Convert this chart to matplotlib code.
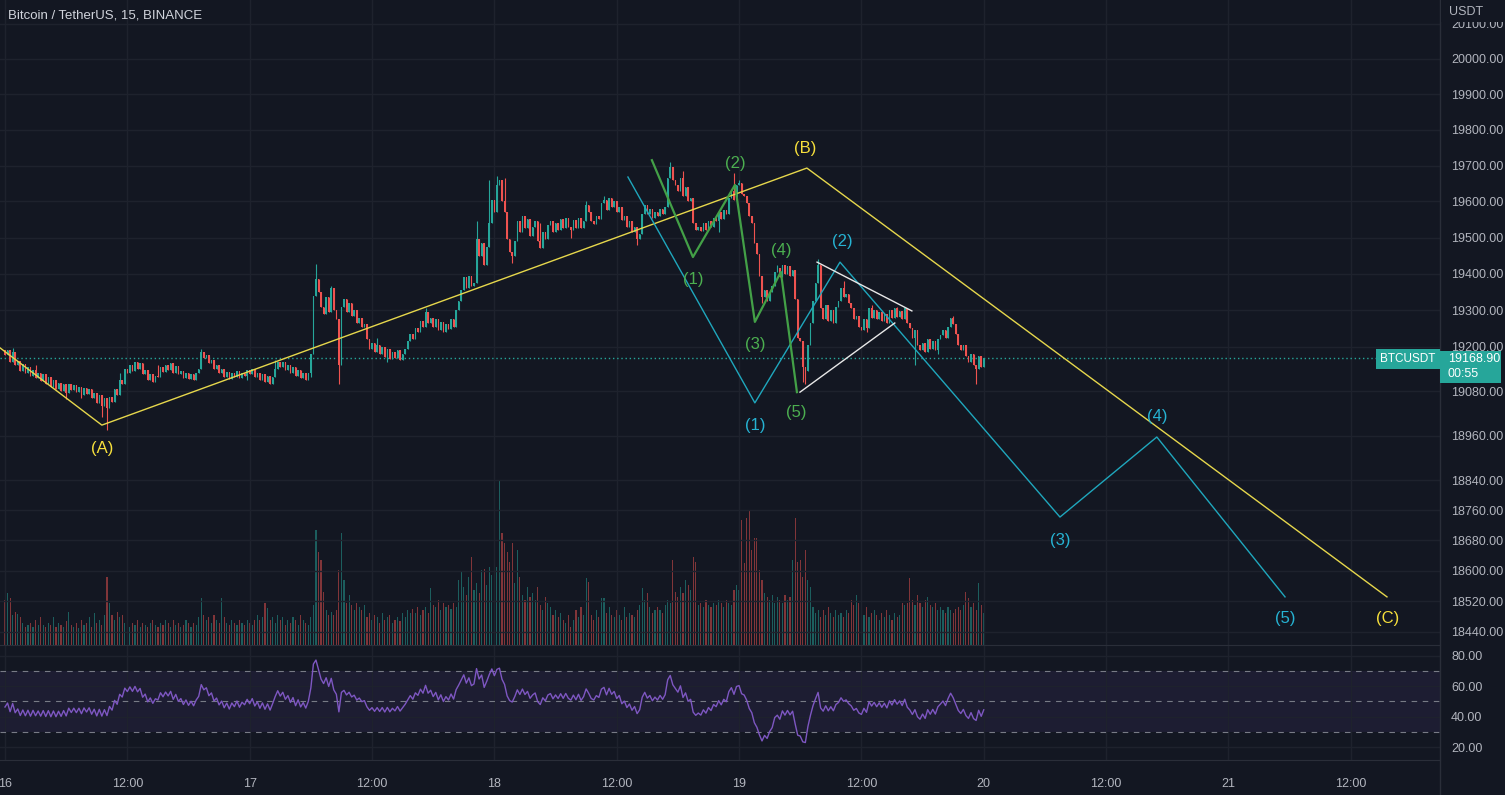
import numpy as np
import matplotlib
matplotlib.use("Agg")
import matplotlib.pyplot as plt
from matplotlib.patches import Rectangle
from matplotlib.ticker import FixedLocator, NullLocator, FuncFormatter

plt.rcParams["font.family"] = ["Liberation Sans", "DejaVu Sans"]

BG = "#131722"
GRID = "#1e222d"
TXT = "#b2b5be"
UP = "#26a69a"
DOWN = "#ef5350"

# 15-minute closes from 16 00:00 to 20 00:00 (one row = 4 hours)
closes = [
    19178, 19190, 19160, 19185, 19150, 19162, 19135, 19152, 19128, 19145, 19120, 19138, 19115, 19130, 19108, 19125,
    19100, 19118, 19092, 19110, 19085, 19102, 19080, 19098, 19075, 19100, 19082, 19096, 19078, 19092, 19070, 19088,
    19072, 19085, 19060, 19075, 19048, 19068, 19040, 19060, 19035, 19065, 19050, 19085, 19070, 19110, 19100, 19140,
    19128, 19150, 19135, 19158, 19140, 19155, 19125, 19138, 19110, 19125, 19105, 19122, 19118, 19145, 19132, 19150,
    19138, 19155, 19130, 19148, 19125, 19135, 19115, 19130, 19112, 19125, 19110, 19128, 19140, 19185, 19170, 19178,
    19155, 19165, 19140, 19150, 19128, 19140, 19118, 19132, 19112, 19130, 19118, 19135, 19115, 19130, 19122, 19138,
    19125, 19140, 19118, 19130, 19110, 19125, 19105, 19120, 19100, 19118, 19140, 19160, 19145, 19158, 19138, 19150,
    19130, 19145, 19120, 19138, 19115, 19128, 19110, 19130, 19180, 19340, 19385, 19350, 19310, 19290, 19335, 19295,
    19360, 19300, 19275, 19150, 19310, 19330, 19295, 19320, 19285, 19300, 19265, 19280, 19255, 19262, 19220, 19195,
    19210, 19185, 19205, 19180, 19200, 19172, 19195, 19168, 19185, 19170, 19190, 19165, 19180, 19195, 19215, 19235,
    19220, 19250, 19240, 19270, 19255, 19295, 19265, 19280, 19255, 19275, 19245, 19268, 19240, 19262, 19248, 19275,
    19255, 19300, 19325, 19355, 19390, 19360, 19395, 19365, 19375, 19495, 19450, 19485, 19425, 19475, 19540, 19605,
    19570, 19645, 19660, 19600, 19570, 19495, 19460, 19450, 19490, 19545, 19515, 19560, 19525, 19550, 19505, 19530,
    19545, 19490, 19470, 19515, 19495, 19535, 19545, 19515, 19540, 19520, 19550, 19525, 19555, 19530, 19520, 19548,
    19525, 19555, 19525, 19545, 19590, 19570, 19545, 19538, 19560, 19552, 19595, 19605, 19575, 19610, 19585, 19600,
    19570, 19585, 19548, 19560, 19530, 19545, 19515, 19530, 19495, 19510, 19565, 19590, 19565, 19578, 19555, 19572,
    19560, 19580, 19565, 19585, 19665, 19695, 19660, 19645, 19630, 19665, 19615, 19640, 19600, 19610, 19540, 19520,
    19530, 19518, 19540, 19522, 19545, 19530, 19555, 19545, 19570, 19552, 19575, 19565, 19610, 19630, 19605, 19645,
    19650, 19620, 19615, 19595, 19560, 19540, 19485, 19455, 19395, 19335, 19355, 19325, 19350, 19365, 19405, 19415,
    19390, 19425, 19400, 19420, 19395, 19410, 19330, 19225, 19215, 19145, 19135, 19205, 19265, 19325, 19375, 19425,
    19305, 19275, 19315, 19270, 19300, 19265, 19310, 19325, 19360, 19335, 19345, 19320, 19305, 19275, 19285, 19255,
    19245, 19275, 19250, 19305, 19280, 19300, 19275, 19295, 19270, 19290, 19265, 19300, 19278, 19305, 19282, 19298,
    19275, 19305, 19265, 19250, 19225, 19245, 19205, 19190, 19210, 19185, 19220, 19195, 19215, 19190, 19220, 19232,
    19245, 19225, 19255, 19280, 19262, 19235, 19205, 19190, 19205, 19175, 19160, 19180, 19150, 19140, 19175, 19145,
    19168.9,
]
first_open = 19190

# notable wicks (candle index -> price)
wick_high = {3: 19198, 12: 19150, 45: 19130, 60: 19150, 77: 19195, 106: 19165, 122: 19428,
             128: 19365, 146: 19225, 165: 19305, 185: 19547, 190: 19660, 193: 19672, 196: 19665,
             210: 19540, 228: 19600, 235: 19615, 261: 19711, 266: 19686, 286: 19680, 288: 19660,
             303: 19425, 319: 19440, 329: 19380, 340: 19315, 350: 19310, 372: 19285}
wick_low = {24: 19058, 30: 19060, 38: 19010, 40: 18976, 95: 19110, 120: 19118, 131: 19100,
            150: 19160, 199: 19430, 222: 19500, 248: 19480, 280: 19515, 297: 19320, 313: 19105,
            314: 19100, 338: 19240, 357: 19150, 366: 19180, 381: 19100}

volume = [
    45, 52, 47, 30, 33, 31, 28, 22, 18, 20, 22, 18, 25, 20, 28, 20,
    18, 22, 20, 28, 18, 22, 20, 18, 24, 33, 20, 18, 22, 17, 25, 20,
    22, 28, 18, 32, 22, 25, 20, 30, 68, 42, 30, 25, 33, 28, 30, 22,
    20, 18, 22, 20, 25, 18, 22, 20, 18, 22, 25, 20, 18, 22, 20, 25,
    22, 18, 25, 20, 22, 18, 20, 25, 22, 18, 22, 20, 28, 47, 30, 25,
    28, 22, 30, 25, 22, 47, 28, 22, 20, 25, 22, 20, 25, 22, 20, 25,
    22, 20, 25, 30, 25, 28, 42, 37, 25, 28, 22, 30, 25, 28, 20, 25,
    22, 28, 25, 20, 30, 25, 22, 20, 28, 40, 115, 93, 85, 53, 35, 30,
    33, 30, 35, 75, 112, 65, 42, 50, 40, 35, 42, 38, 35, 40, 28, 32,
    25, 30, 28, 22, 32, 25, 28, 30, 22, 25, 28, 24, 32, 28, 35, 32,
    36, 32, 38, 30, 35, 38, 32, 57, 40, 38, 45, 35, 42, 38, 40, 36,
    42, 38, 65, 73, 58, 50, 68, 88, 55, 62, 52, 75, 76, 60, 78, 70,
    65, 78, 165, 112, 102, 93, 83, 102, 62, 95, 68, 50, 45, 58, 48, 52,
    45, 58, 40, 35, 48, 42, 38, 30, 35, 28, 32, 25, 22, 30, 18, 25,
    35, 28, 38, 30, 67, 63, 30, 25, 35, 28, 47, 47, 32, 38, 30, 28,
    35, 30, 25, 38, 28, 32, 30, 28, 35, 40, 57, 45, 52, 38, 32, 35,
    38, 35, 32, 40, 45, 42, 85, 53, 48, 58, 52, 65, 60, 55, 88, 83,
    40, 42, 38, 45, 40, 38, 42, 40, 45, 42, 38, 45, 42, 40, 55, 60,
    55, 125, 82, 127, 135, 95, 107, 107, 75, 65, 52, 48, 45, 50, 42, 48,
    45, 42, 50, 45, 48, 85, 127, 83, 85, 68, 95, 65, 58, 38, 32, 35,
    28, 35, 30, 38, 32, 28, 35, 30, 32, 28, 35, 32, 45, 40, 50, 42,
    35, 30, 38, 28, 32, 35, 30, 25, 32, 28, 35, 30, 25, 32, 28, 30,
    42, 40, 42, 67, 45, 40, 50, 42, 38, 45, 48, 40, 38, 42, 35, 38,
    35, 32, 38, 35, 32, 36, 38, 35, 40, 53, 47, 38, 42, 35, 62, 40,
    32,
]

# RSI state carried in from before the first bar (reads ~48 at the left edge)
rsi_len = 14
prior_avg_gain = 9.0
prior_avg_loss = 9.5

price_ticks = [20100, 20000, 19900, 19800, 19700, 19600, 19500, 19400, 19300, 19200,
               19080, 18960, 18840, 18760, 18680, 18600, 18520, 18440]
rsi_ticks = [20, 40, 60, 80]
time_ticks = [0, 48, 96, 144, 192, 240, 288, 336, 384, 432, 480, 528]
time_labels = ["16", "12:00", "17", "12:00", "18", "12:00", "19", "12:00", "20", "12:00", "21", "12:00"]

# wave drawings (x = 15-min bar index, y = price)
abc_x = [-4, 38.0, 314.6, 542.2]
abc_y = [19208, 18988, 19693, 18531]
impulse_x = [244.4, 294.2, 327.6, 413.9, 451.9, 502.2]
impulse_y = [19668, 19048, 19432, 18742, 18956, 18531]
sub_x = [253.8, 269.9, 286.4, 294.2, 304.4, 310.7]
sub_y = [19715, 19446, 19646, 19268, 19405, 19077]
tri_top_x, tri_top_y = [318.6, 355.8], [19432, 19298]
tri_bot_x, tri_bot_y = [311.9, 349.1], [19077, 19265]

abc_names = ["(A)", "(B)", "(C)"]
abc_lx, abc_ly = [38, 313.9, 542.6], [18926, 19749, 18475]
wave_names = ["(1)", "(2)", "(3)", "(4)", "(5)"]
imp_lx, imp_ly = [294.2, 328.4, 413.9, 451.9, 502.2], [18988, 19490, 18681, 19012, 18475]
sub_lx, sub_ly = [269.9, 286.4, 294.2, 304.4, 310.3], [19385, 19705, 19205, 19463, 19021]

last_price = 19168.9
countdown = "00:55"

W, H = 1505, 795
fig = plt.figure(figsize=(W / 100, H / 100), dpi=100, facecolor=BG)


def box(left, top, right, bottom):
    return [left / W, 1 - bottom / H, (right - left) / W, (bottom - top) / H]


axv = fig.add_axes(box(0, 470, 1440, 645), zorder=0)
ax = fig.add_axes(box(0, 0, 1440, 645), zorder=1)
axr = fig.add_axes(box(0, 645, 1440, 760), zorder=1)

c = np.array(closes, dtype=float)
n = len(c)
idx = np.arange(n)
o = np.concatenate([[first_open], c[:-1]])
hi = np.maximum(o, c)
lo = np.minimum(o, c)
for k, v in wick_high.items():
    hi[k] = max(hi[k], v)
for k, v in wick_low.items():
    lo[k] = min(lo[k], v)
cols = np.where(c >= o, UP, DOWN)

# candles
ax.patch.set_visible(False)
ax.vlines(idx, lo, hi, colors=cols, lw=0.8, zorder=3)
ax.bar(idx, np.maximum(np.abs(c - o), 1.5), bottom=np.minimum(o, c), width=0.62,
       color=cols, lw=0, zorder=3)

ax.set_yscale("log")
ax.set_ylim(18405, 20168)
ax.set_xlim(-1.96, 563)
ax.yaxis.set_major_locator(FixedLocator(price_ticks))
ax.yaxis.set_minor_locator(NullLocator())
ax.yaxis.set_major_formatter(FuncFormatter(lambda v, p: f"{v:.2f}"))
ax.yaxis.set_minor_formatter(FuncFormatter(lambda v, p: ""))
ax.yaxis.tick_right()
ax.tick_params(axis="y", length=0, pad=8, labelsize=9, labelcolor=TXT)
ax.set_xticks(time_ticks)
ax.tick_params(axis="x", length=0, labelbottom=False)
ax.grid(True, color=GRID, lw=1, zorder=0)
for s in ax.spines.values():
    s.set_visible(False)

# current price line
ax.axhline(last_price, color=UP, lw=1, ls=(0, (1, 2)), zorder=2)

# volume
axv.set_facecolor(BG)
axv.bar(idx, volume, width=0.45, color=cols, alpha=0.5, lw=0)
axv.set_xlim(ax.get_xlim())
axv.set_ylim(0, 175)
axv.axis("off")

# wave lines
ax.plot(abc_x, abc_y, color="#e6d74c", lw=1, zorder=4)
ax.plot(impulse_x, impulse_y, color="#1fa7bd", lw=1, zorder=4)
ax.plot(sub_x, sub_y, color="#43a047", lw=1.6, zorder=4)
ax.plot(tri_top_x, tri_top_y, color="#e8e8e8", lw=1, zorder=4)
ax.plot(tri_bot_x, tri_bot_y, color="#e8e8e8", lw=1, zorder=4)

for name, x, y in zip(abc_names, abc_lx, abc_ly):
    ax.text(x, y, name, color="#f7e03c", fontsize=12, ha="center", va="center", zorder=5)
for name, x, y in zip(wave_names, imp_lx, imp_ly):
    ax.text(x, y, name, color="#26b3d3", fontsize=12, ha="center", va="center", zorder=5)
for name, x, y in zip(wave_names, sub_lx, sub_ly):
    ax.text(x, y, name, color="#4caf50", fontsize=12, ha="center", va="center", zorder=5)

# RSI (Wilder smoothing)
avg_g, avg_l = prior_avg_gain, prior_avg_loss
prev = first_open
rsi = []
for price in c:
    ch = price - prev
    avg_g = (avg_g * (rsi_len - 1) + max(ch, 0)) / rsi_len
    avg_l = (avg_l * (rsi_len - 1) + max(-ch, 0)) / rsi_len
    rsi.append(100 - 100 / (1 + avg_g / avg_l))
    prev = price

axr.set_facecolor(BG)
axr.axhspan(30, 70, color="#7e57c2", alpha=0.1, lw=0)
for lvl in (30, 50, 70):
    axr.axhline(lvl, color="#787b86", lw=0.8, ls=(0, (5, 5)))
axr.plot(idx, rsi, color="#7e57c2", lw=1)
axr.set_xlim(ax.get_xlim())
axr.set_ylim(11.6, 87.0)
axr.yaxis.set_major_locator(FixedLocator(rsi_ticks))
axr.yaxis.set_major_formatter(FuncFormatter(lambda v, p: f"{v:.2f}"))
axr.yaxis.tick_right()
axr.tick_params(axis="y", length=0, pad=8, labelsize=9, labelcolor=TXT)
axr.set_xticks(time_ticks)
axr.set_xticklabels(time_labels)
axr.tick_params(axis="x", length=0, pad=13, labelsize=9, labelcolor=TXT)
axr.grid(True, color=GRID, lw=1)
for k, sp in axr.spines.items():
    sp.set_visible(k in ("top", "bottom"))
    sp.set_color("#2a2e39")

# right scale border
fig.add_artist(plt.Line2D([1440 / W, 1440 / W], [0, 1], color="#2a2e39", lw=1))

# cover the clipped top label and add unit
fig.add_artist(Rectangle((1441 / W, 1 - 22 / H), 64 / W, 22 / H, transform=fig.transFigure,
                         facecolor=BG, edgecolor="none", zorder=5))
fig.text(1449 / W, 1 - 12 / H, "USDT", color=TXT, fontsize=9, va="center", zorder=6)

# price labels
fig.text(1408 / W, 1 - 359 / H, "BTCUSDT", color="white", fontsize=8.5, ha="center", va="center",
         zorder=6, bbox=dict(boxstyle="square,pad=0.35", facecolor=UP, edgecolor="none"))
fig.add_artist(Rectangle((1440 / W, 1 - 383 / H), 61 / W, 32 / H, transform=fig.transFigure,
                         facecolor=UP, edgecolor="none", zorder=5))
fig.text(1448 / W, 1 - 359 / H, f"{last_price:.2f}", color="white", fontsize=9, va="center", zorder=6)
fig.text(1448 / W, 1 - 374 / H, countdown, color="white", fontsize=9, va="center", zorder=6)

fig.text(8 / W, 1 - 15 / H, "Bitcoin / TetherUS, 15, BINANCE", color="#d1d4dc", fontsize=9.5,
         va="center")

fig.savefig("out.png", dpi=100, facecolor=BG)
